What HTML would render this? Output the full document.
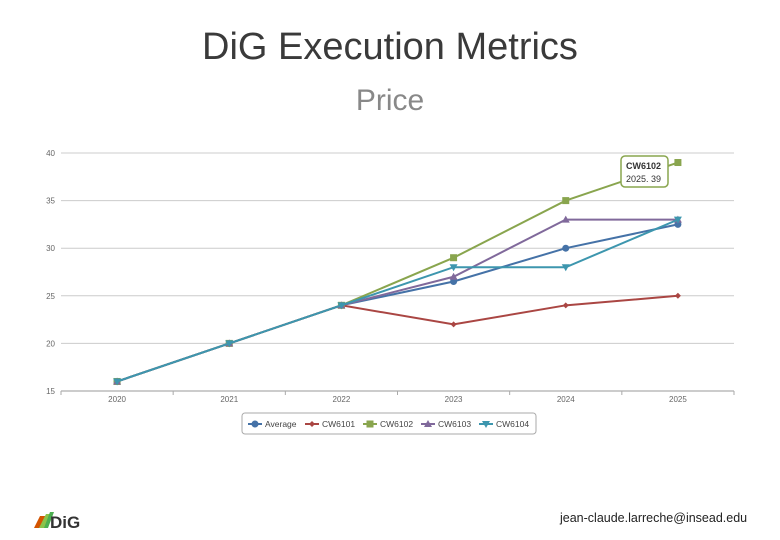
<!DOCTYPE html>
<html><head><meta charset="utf-8"><style>
body{margin:0;width:780px;height:540px;background:#fff;position:relative;overflow:hidden;font-family:"Liberation Sans",sans-serif}
.t{position:absolute;left:0;width:780px;text-align:center;color:#222}
</style></head><body>
<div class="t" style="top:26px;font-size:38px;color:#3a3a3a">DiG Execution Metrics</div>
<div class="t" style="top:84px;font-size:30px;color:#888">Price</div>
<svg id="chart" width="780" height="540" style="position:absolute;left:0;top:0"></svg>
<div style="position:absolute;left:34px;top:510px;width:60px;height:20px">
<svg width="60" height="20"><polygon points="0,18 6,6 12,6 6,18" fill="#d35400"/><polygon points="5,18 12,4 18,4 11,18" fill="#8bc34a"/><polygon points="10,18 16,2 20,2 14,18" fill="#4caf50"/><text x="16" y="18" font-size="17" font-weight="bold" fill="#333" font-family="Liberation Sans">DiG</text></svg></div>
<div style="position:absolute;left:560px;top:511px;font-size:12.5px;color:#222">jean-claude.larreche@insead.edu</div>
<script>
const categories=["2020","2021","2022","2023","2024","2025"];
const seriesNames=["Average","CW6101","CW6102","CW6103","CW6104"];
const avgVals=[16,20,24,26.5,30,32.5];
const cw6101Vals=[16,20,24,22,24,25];
const cw6102Vals=[16,20,24,29,35,39];
const cw6103Vals=[16,20,24,27,33,33];
const cw6104Vals=[16,20,24,28,28,33];
const yTicks=[15,20,25,30,35,40];
const colors=["#4572A7","#AA4643","#89A54E","#80699B","#3D96AE"];
const markers=["circle","diamond","square","triangle","tri-down"];
const all=[avgVals,cw6101Vals,cw6102Vals,cw6103Vals,cw6104Vals];
const svg=document.getElementById('chart');const NS="http://www.w3.org/2000/svg";
const L=61,R=734,T=153,B=391,yMin=15,yMax=40;
const bw=(R-L)/categories.length;
const x=i=>L+bw*(i+0.5);const y=v=>B-(v-yMin)/(yMax-yMin)*(B-T);
function mk(tag,a,p){const e=document.createElementNS(NS,tag);for(const k in a)e.setAttribute(k,a[k]);(p||svg).appendChild(e);return e;}
yTicks.forEach(t=>{
const g=mk('line',{x1:L,x2:R,y1:y(t),y2:y(t),stroke:t==15?'#999':'#ccc','stroke-width':1});


const tx=mk('text',{x:L-6,y:y(t)+3,'font-size':8,fill:'#666','text-anchor':'end'});tx.textContent=t;


});
for(let i=0;i<=categories.length;i++){mk('line',{x1:L+bw*i,x2:L+bw*i,y1:B,y2:B+4,stroke:'#aaa'});}
categories.forEach((c,i)=>{const t=mk('text',{x:x(i),y:B+11,'font-size':8,fill:'#666','text-anchor':'middle'});t.textContent=c;

});
function marker(kind,cx,cy,col,p){
if(kind=='circle')return mk('circle',{cx,cy,r:3.5,fill:col},p);
if(kind=='square')return mk('rect',{x:cx-3.5,y:cy-3.5,width:7,height:7,fill:col},p);
if(kind=='diamond')return mk('polygon',{points:`${cx},${cy-3} ${cx+3},${cy} ${cx},${cy+3} ${cx-3},${cy}`,fill:col},p);
if(kind=='triangle')return mk('polygon',{points:`${cx},${cy-4} ${cx+4},${cy+3} ${cx-4},${cy+3}`,fill:col},p);
return mk('polygon',{points:`${cx},${cy+4} ${cx+4},${cy-3} ${cx-4},${cy-3}`,fill:col},p);}
all.forEach((vals,s)=>{
const g=mk('g',{});


mk('polyline',{points:vals.map((v,i)=>x(i)+','+y(v)).join(' '),fill:'none',stroke:colors[s],'stroke-width':2},g);
vals.forEach((v,i)=>{const m=marker(markers[s],x(i),y(v),colors[s],g);

});
});
const tg=mk('g',{});


mk('rect',{x:621,y:156,width:47,height:31,rx:4,fill:'#fff',stroke:'#89A54E','stroke-width':1.5},tg);
const t1=mk('text',{x:626,y:169,'font-size':9,'font-weight':'bold',fill:'#333'},tg);t1.textContent=seriesNames[2];
const t2=mk('text',{x:626,y:182,'font-size':9,fill:'#333'},tg);t2.textContent=categories[5]+'. '+cw6102Vals[5];
const lg=mk('g',{});


mk('rect',{x:242,y:413,width:294,height:21,rx:3,fill:'#fff',stroke:'#aaa'},lg);
let lx=248;
seriesNames.forEach((n,s)=>{
const e=mk('g',{},lg);


mk('line',{x1:lx,x2:lx+14,y1:424,y2:424,stroke:colors[s],'stroke-width':2},e);
marker(markers[s],lx+7,424,colors[s],e);
const t=mk('text',{x:lx+17,y:427,'font-size':8.5,fill:'#444'},e);t.textContent=n;
lx+= s==0?57:58;
});
</script>
</body></html>
